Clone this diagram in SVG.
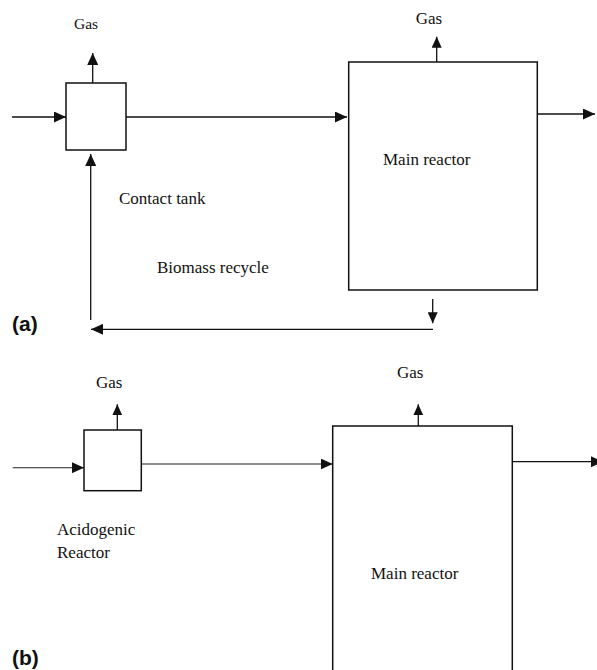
<svg xmlns="http://www.w3.org/2000/svg" width="597" height="670" viewBox="0 0 597 670">
<style>
.box{fill:#fff;stroke:#111;stroke-width:1.5}
.ln{fill:none;stroke:#111;stroke-width:1.3}
.lnb{fill:none;stroke:#222;stroke-width:1.1}
.t{font-family:"Liberation Serif","Times New Roman",serif;font-size:17px;fill:#111}
.p{font-family:"Liberation Sans",Arial,sans-serif;font-size:21px;font-weight:bold;fill:#111}
</style>
<defs>
<marker id="arr" markerUnits="userSpaceOnUse" markerWidth="12" markerHeight="11" refX="12" refY="5.5" orient="auto">
<path d="M0,0 L12,5.5 L0,11 Z" fill="#111"/>
</marker>
<marker id="arrs" markerUnits="userSpaceOnUse" markerWidth="11" markerHeight="10" refX="11" refY="5" orient="auto">
<path d="M0,0 L11,5 L0,10 Z" fill="#111"/>
</marker>
</defs>

<g id="panel-a-label"><text class="p" x="12" y="331">(a)</text></g>
<g id="panel-b-label"><text class="p" x="12" y="665">(b)</text></g>

<g id="contact-tank">
<rect class="box" x="66" y="83" width="60" height="67"/>
<text class="t" x="119" y="204">Contact tank</text>
</g>
<g id="gas-a1"><text class="t" x="74" y="29" style="font-size:15.5px">Gas</text></g>

<g id="main-reactor-a">
<rect class="box" x="348.7" y="62" width="188.6" height="228"/>
<text class="t" x="383" y="165">Main reactor</text>
</g>
<g id="gas-a2"><text class="t" x="415.7" y="23.5">Gas</text></g>
<g id="biomass-recycle-label"><text class="t" x="157" y="273">Biomass recycle</text></g>

<g id="acidogenic-reactor">
<rect class="box" x="84" y="430" width="57.3" height="60.7"/>
<text class="t" x="57" y="535">Acidogenic</text>
<text class="t" x="57" y="558">Reactor</text>
</g>
<g id="gas-b1"><text class="t" x="96" y="388">Gas</text></g>

<g id="main-reactor-b">
<rect class="box" x="332.7" y="426" width="179.6" height="270"/>
<text class="t" x="371" y="579">Main reactor</text>
</g>
<g id="gas-b2"><text class="t" x="397" y="377.7">Gas</text></g>

<g id="connectors">
<!-- panel a -->
<line class="ln" x1="12" y1="117" x2="66" y2="117" marker-end="url(#arr)"/>
<line class="ln" x1="92.7" y1="83" x2="92.7" y2="53" marker-end="url(#arr)"/>
<line class="ln" x1="126" y1="117" x2="347" y2="117" marker-end="url(#arr)"/>
<line class="ln" x1="436.7" y1="62" x2="436.7" y2="36.7" marker-end="url(#arrs)"/>
<line class="ln" x1="537.3" y1="114" x2="595" y2="114" marker-end="url(#arr)"/>
<line class="ln" x1="432.7" y1="299" x2="432.7" y2="323.3" marker-end="url(#arrs)"/>
<line class="ln" x1="433" y1="329.3" x2="91" y2="329.3" marker-end="url(#arr)"/>
<line class="ln" x1="90.7" y1="320" x2="90.7" y2="154" marker-end="url(#arr)"/>
<!-- panel b -->
<line class="lnb" x1="12.7" y1="467.7" x2="84" y2="467.7" marker-end="url(#arr)"/>
<line class="ln" x1="117.3" y1="430" x2="117.3" y2="404.3" marker-end="url(#arrs)"/>
<line class="lnb" x1="141.3" y1="464" x2="332.7" y2="464" marker-end="url(#arr)"/>
<line class="ln" x1="418.3" y1="426" x2="418.3" y2="404.3" marker-end="url(#arrs)"/>
<line class="ln" x1="512.3" y1="461.7" x2="603" y2="461.7" marker-end="url(#arr)"/>
</g>
</svg>
